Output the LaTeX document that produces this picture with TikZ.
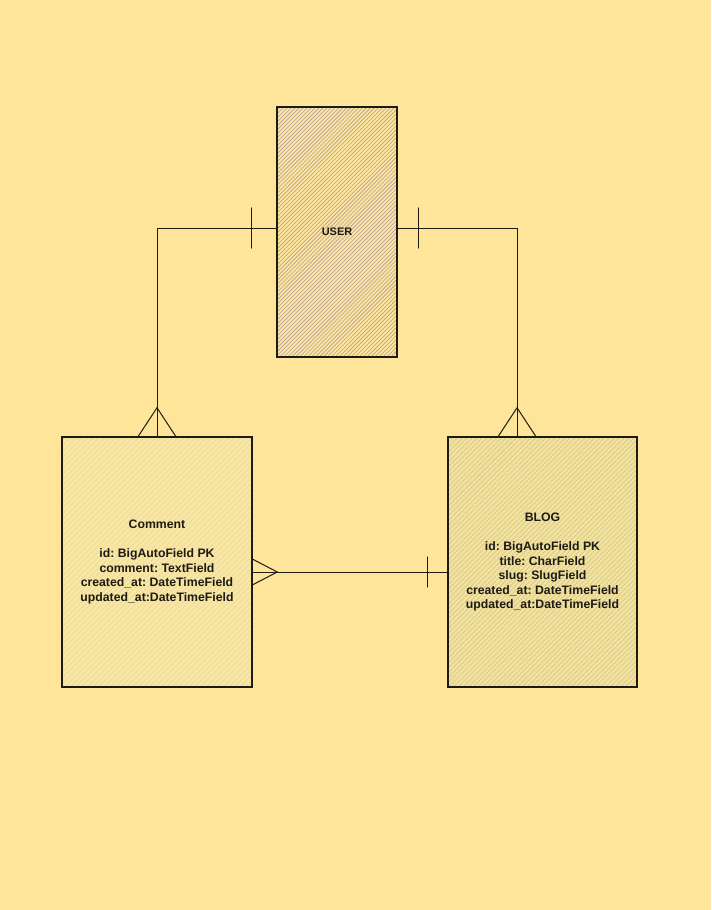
\documentclass[tikz,border=0pt]{standalone}
\usepackage{fontspec}
\setmainfont{Liberation Sans}
\usetikzlibrary{calc,patterns.meta}
\definecolor{bgc}{HTML}{FFE59A}
\definecolor{userhatch}{HTML}{AE9EA2}
\definecolor{comfill}{HTML}{F8E6A4}
\definecolor{comhatch}{HTML}{EBD796}
\definecolor{blogfill}{HTML}{F3E29B}
\definecolor{bloghatch}{HTML}{CFC290}
\definecolor{ink}{HTML}{1E1A14}
\frenchspacing
\tikzset{
  entity/.style={draw=ink, line width=0.9pt, align=center, inner sep=0pt,
    font=\fontsize{9.2pt}{10.9pt}\selectfont\bfseries, text=ink},
  userbox/.style={entity, font=\fontsize{8.2pt}{10.9pt}\selectfont\bfseries,
    minimum width=90pt, minimum height=187.5pt,
    preaction={fill=bgc},
    pattern={Lines[angle=45,distance=2.1pt,line width=0.45pt]}, pattern color=userhatch},
  combox/.style={entity, minimum width=142.5pt, minimum height=187.5pt,
    preaction={fill=comfill},
    pattern={Lines[angle=45,distance=3pt,line width=0.4pt]}, pattern color=comhatch},
  blogbox/.style={entity, minimum width=141.75pt, minimum height=187.5pt,
    preaction={fill=blogfill},
    pattern={Lines[angle=45,distance=2.6pt,line width=0.4pt]}, pattern color=bloghatch},
  rel/.style={draw=ink, line width=0.75pt},
  barmark/.style={draw=ink, line width=1.1pt, line cap=round},
}
\begin{document}
\begin{tikzpicture}[x=0.75pt,y=-0.75pt]
\fill[bgc] (0,0) rectangle (711,910);
\useasboundingbox (0,0) rectangle (711,910);

\node[userbox] (user) at (337,232) {USER};
\node[combox] (comment) at (157,562) {Comment\\[10.9pt]id: BigAutoField PK\\comment: TextField\\created\_at: DateTimeField\\updated\_at:DateTimeField};
\node[blogbox] (blog) at (542.5,562) {BLOG\\[10.9pt]id: BigAutoField PK\\title: CharField\\slug: SlugField\\created\_at: DateTimeField\\updated\_at:DateTimeField};

% USER -- Comment
\coordinate (ul) at ([yshift=3pt]user.west);
\draw[rel] (ul) -| (comment.north);
\draw[barmark] ([xshift=-18.75pt,yshift=15pt]ul) -- ([xshift=-18.75pt,yshift=-15pt]ul);
\draw[rel] ([xshift=-14.25pt]comment.north) -- ([yshift=21.75pt]comment.north) -- ([xshift=14.25pt]comment.north);

% USER -- BLOG
\coordinate (ur) at ([yshift=3pt]user.east);
\coordinate (bt) at ([xshift=-19.1pt]blog.north);
\draw[rel] (ur) -| (bt);
\draw[barmark] ([xshift=15.75pt,yshift=15pt]ur) -- ([xshift=15.75pt,yshift=-15pt]ur);
\draw[rel] ([xshift=-14.25pt]bt) -- ([yshift=21.75pt]bt) -- ([xshift=14.25pt]bt);

% Comment -- BLOG
\coordinate (ce) at ([yshift=-7.5pt]comment.east);
\coordinate (bw) at ([yshift=-7.5pt]blog.west);
\draw[rel] (ce) -- (bw);
\draw[rel] ([yshift=9.75pt]ce) -- ([xshift=18.75pt]ce) -- ([yshift=-9.75pt]ce);
\draw[barmark] ([xshift=-15pt,yshift=11.25pt]bw) -- ([xshift=-15pt,yshift=-11.25pt]bw);
\end{tikzpicture}
\end{document}
